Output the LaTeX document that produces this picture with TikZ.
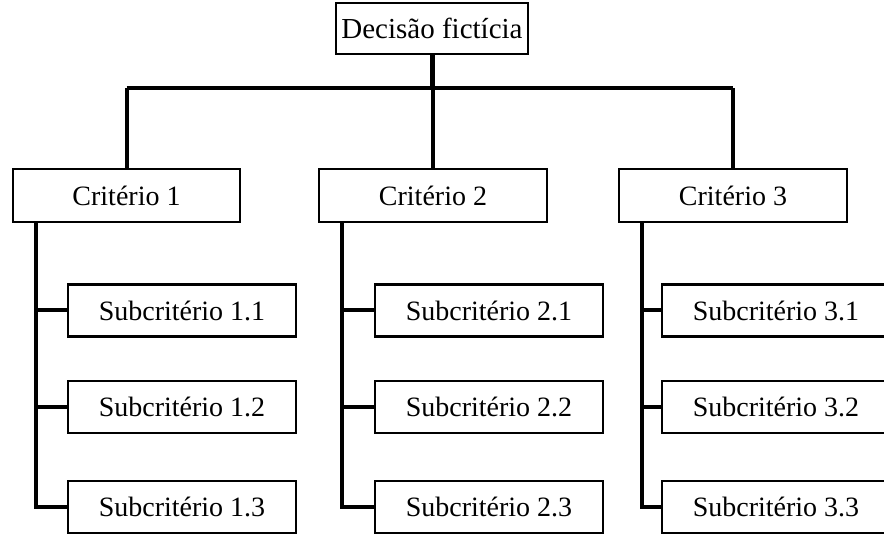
\documentclass[tikz,border=0pt]{standalone}
\usepackage{fontspec}
\setmainfont{Liberation Serif}
\begin{document}
\begin{tikzpicture}[x=1pt,y=-1pt,
  box/.style={draw=black, line width=2.8pt, fill=white, inner sep=0pt,
    minimum width=228pt, minimum height=52pt,
    font=\fontsize{28}{32}\selectfont},
  topbox/.style={box, minimum width=192pt, minimum height=51pt,
    font=\fontsize{29}{33}\selectfont},
  link/.style={draw=black, line width=4pt},
  buslink/.style={draw=black, line width=3.2pt}]
\useasboundingbox (0,0) rectangle (884,534);
\begin{scope}
\clip (0,0) rectangle (884,534);

% decision and criteria
\node[topbox] (top) at (432,28.5) {Decisão fictícia};
\node[box, minimum width=227pt, minimum height=53pt] (c1) at (126.5,195.5) {Critério 1};
\node[box, minimum height=53pt] (c2) at (433,195.5) {Critério 2};
\node[box, minimum height=53pt] (c3) at (733,195.5) {Critério 3};

% subcriteria
\node[box] (s11) at (182,310.5) {Subcritério 1.1};
\node[box] (s12) at (182,407) {Subcritério 1.2};
\node[box] (s13) at (182,507) {Subcritério 1.3};
\node[box] (s21) at (489,310.5) {Subcritério 2.1};
\node[box] (s22) at (489,407) {Subcritério 2.2};
\node[box] (s23) at (489,507) {Subcritério 2.3};
\node[box] (s31) at (776,310.5) {Subcritério 3.1};
\node[box] (s32) at (776,407) {Subcritério 3.2};
\node[box] (s33) at (776,507) {Subcritério 3.3};

% bus joining the decision to the criteria
\coordinate (bus) at (432,88);
\draw[link, line width=5pt] (top.south) -- (bus);
\draw[buslink] (c1.north |- bus) -- (c3.north |- bus);
\draw[link] (c1.north) -- (c1.north |- bus);
\draw[link] (c2.north) -- (c2.north |- bus);
\draw[link] (c3.north) -- (c3.north |- bus);

% spines from each criterion to its subcriteria
\coordinate (k1) at (36,222);
\coordinate (k2) at (342,222);
\coordinate (k3) at (642,222);
\draw[link] (k1) |- (s13.west);
\draw[link] (k1 |- s11.west) -- (s11.west);
\draw[link] (k1 |- s12.west) -- (s12.west);
\draw[link] (k2) |- (s23.west);
\draw[link] (k2 |- s21.west) -- (s21.west);
\draw[link] (k2 |- s22.west) -- (s22.west);
\draw[link] (k3) |- (s33.west);
\draw[link] (k3 |- s31.west) -- (s31.west);
\draw[link] (k3 |- s32.west) -- (s32.west);
\end{scope}
\end{tikzpicture}
\end{document}
